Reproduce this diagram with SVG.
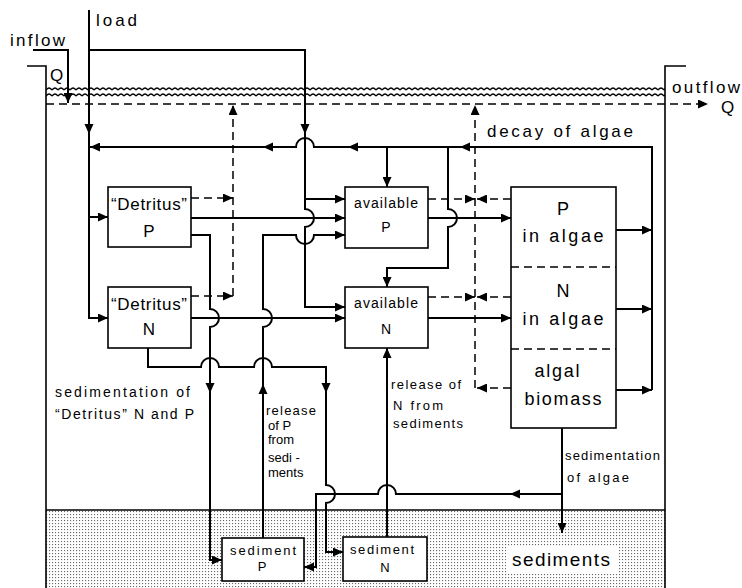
<svg xmlns="http://www.w3.org/2000/svg" width="742" height="588" viewBox="0 0 742 588">
<style>
.ln{fill:none;stroke:#000;stroke-width:2}
.ds{fill:none;stroke:#000;stroke-width:1.6;stroke-dasharray:8 5}
.wall{fill:none;stroke:#000;stroke-width:1.6}
.bx{fill:#fff;stroke:#000;stroke-width:1.6}
.dv{fill:none;stroke:#000;stroke-width:1.5;stroke-dasharray:8 5}
text{font-family:"Liberation Sans",Arial,sans-serif;fill:#000}
.big{font-size:17px}
.mid{font-size:14px}
.sm{font-size:13px}
.c{text-anchor:middle}
</style>
<defs>
<marker id="ah" viewBox="0 0 10 9" refX="10" refY="4.5" markerWidth="10" markerHeight="9" markerUnits="userSpaceOnUse" orient="auto">
<path d="M0 0 L10 4.5 L0 9 Z" fill="#000"/>
</marker>
<path id="tri" d="M0 0 L-10 -4.5 L-10 4.5 Z" fill="#000"/>
<pattern id="dots" x="0" y="0" width="3" height="3" patternUnits="userSpaceOnUse">
<rect width="3" height="3" fill="#fff"/>
<rect x="1" y="1" width="1.1" height="1.1" fill="#666"/>
</pattern>
<pattern id="wave" x="46" y="86" width="6" height="6" patternUnits="userSpaceOnUse">
<path d="M0 4 Q3 0 6 4" fill="none" stroke="#000" stroke-width="1.3"/>
</pattern>
</defs>

<g id="lake">
<rect x="46" y="510" width="619" height="78" fill="url(#dots)"/>
<path class="wall" d="M27 66 H46 V588"/>
<path class="wall" d="M686 66 H665 V588"/>
<path class="wall" d="M46 510 H665"/>
<rect x="46" y="86" width="619" height="6" fill="url(#wave)"/>
<rect x="46" y="92" width="619" height="6" fill="url(#wave)"/>
<rect x="506" y="546" width="113" height="28" fill="#fff"/>
</g>

<g id="connectors">
<path class="ds" d="M46 104 H708" marker-end="url(#ah)"/>
<path class="ln" d="M33 50 H68 V103" marker-end="url(#ah)"/>
<path class="ln" d="M89 10 V318 H108" marker-end="url(#ah)"/>
<path class="ln" d="M89 217 H108" marker-end="url(#ah)"/>
<path class="ln" d="M89 50 H305 V209 A9 9 0 0 1 305 227 V307 H345" marker-end="url(#ah)"/>
<path class="ln" d="M305 199 H345" marker-end="url(#ah)"/>
<path class="ln" d="M652 390 V147 H314 A9 9 0 0 0 296 147 H90" marker-end="url(#ah)"/>
<path class="ln" d="M616 230 H652" marker-end="url(#ah)"/>
<path class="ln" d="M616 309 H652" marker-end="url(#ah)"/>
<path class="ln" d="M616 390 H652" marker-end="url(#ah)"/>
<path class="ln" d="M387 147 V187" marker-end="url(#ah)"/>
<path class="ln" d="M448 147 V209 A9 9 0 0 1 448 227 V268 H387 V287" marker-end="url(#ah)"/>
<path class="ln" d="M428 218 H511" marker-end="url(#ah)"/>
<path class="ln" d="M428 318 H511" marker-end="url(#ah)"/>
<path class="ln" d="M191 218 H345" marker-end="url(#ah)"/>
<path class="ln" d="M191 235 H210 V309 A9 9 0 0 1 210 327 V560 H222" marker-end="url(#ah)"/>
<path class="ln" d="M191 318 H345" marker-end="url(#ah)"/>
<path class="ln" d="M148 348 V367 H201 A9 9 0 0 1 219 367 H254 A9 9 0 0 1 272 367 H326 V485 A9 9 0 0 1 326 503 V552 H343" marker-end="url(#ah)"/>
<path class="ln" d="M263 538 V327 A9 9 0 0 0 263 309 V235 H296 A9 9 0 0 0 314 235 H345" marker-end="url(#ah)"/>
<path class="ln" d="M387 537 V348" marker-end="url(#ah)"/>
<path class="ln" d="M562 428 V533" marker-end="url(#ah)"/>
<path class="ln" d="M562 494 H396 A9 9 0 0 0 378 494 H316 V567 H304" marker-end="url(#ah)"/>
<path class="dv" d="M191 198 H233" marker-end="url(#ah)"/>
<path class="dv" d="M191 296 H233" marker-end="url(#ah)"/>
<path class="dv" d="M233 296 V105" marker-end="url(#ah)"/>
<path class="dv" d="M428 199 H475" marker-end="url(#ah)"/>
<path class="dv" d="M428 297 H475" marker-end="url(#ah)"/>
<path class="dv" d="M511 199 H477" marker-end="url(#ah)"/>
<path class="dv" d="M511 297 H477" marker-end="url(#ah)"/>
<path class="dv" d="M511 388 H477" marker-end="url(#ah)"/>
<path class="dv" d="M475 388 V105" marker-end="url(#ah)"/>
<use href="#tri" transform="translate(89 134) rotate(90)"/>
<use href="#tri" transform="translate(305 134) rotate(90)"/>
<use href="#tri" transform="translate(263 147) rotate(180)"/>
<use href="#tri" transform="translate(348 147) rotate(180)"/>
<use href="#tri" transform="translate(460 147) rotate(180)"/>
<use href="#tri" transform="translate(210 393) rotate(90)"/>
<use href="#tri" transform="translate(263 384) rotate(-90)"/>
<use href="#tri" transform="translate(326 393) rotate(90)"/>
<use href="#tri" transform="translate(510 494) rotate(180)"/>
</g>

<g id="detritus-p">
<rect class="bx" x="108" y="187" width="83" height="60"/>
<text class="big c" x="149" y="210" textLength="76" lengthAdjust="spacing">“Detritus”</text>
<text class="big c" x="149" y="237">P</text>
</g>
<g id="detritus-n">
<rect class="bx" x="108" y="287" width="83" height="61"/>
<text class="big c" x="149" y="310" textLength="76" lengthAdjust="spacing">“Detritus”</text>
<text class="big c" x="149" y="335">N</text>
</g>
<g id="available-p">
<rect class="bx" x="345" y="187" width="83" height="61"/>
<text class="mid c" x="386" y="208" textLength="64" lengthAdjust="spacing">available</text>
<text class="mid c" x="386" y="232">P</text>
</g>
<g id="available-n">
<rect class="bx" x="345" y="287" width="83" height="61"/>
<text class="mid c" x="386" y="308" textLength="64" lengthAdjust="spacing">available</text>
<text class="mid c" x="386" y="334">N</text>
</g>
<g id="algae">
<rect class="bx" x="511" y="187" width="105" height="241"/>
<path class="ds" d="M511 267 H616 M511 349 H616"/>
<text class="big c" x="563" y="215" style="font-size:18px">P</text>
<text class="big c" x="563" y="242" textLength="81" lengthAdjust="spacing" style="font-size:18px">in algae</text>
<text class="big c" x="563" y="297" style="font-size:18px">N</text>
<text class="big c" x="563" y="325" textLength="81" lengthAdjust="spacing" style="font-size:18px">in algae</text>
<text class="big c" x="557" y="377" textLength="45" lengthAdjust="spacing" style="font-size:18px">algal</text>
<text class="big c" x="563" y="405" textLength="77" lengthAdjust="spacing" style="font-size:18px">biomass</text>
</g>
<g id="sediment-p">
<rect class="bx" x="222" y="538" width="82" height="43"/>
<text class="sm c" x="263" y="555" textLength="66" lengthAdjust="spacing">sediment</text>
<text class="sm c" x="262" y="571">P</text>
</g>
<g id="sediment-n">
<rect class="bx" x="343" y="537" width="84" height="44"/>
<text class="sm c" x="382" y="554" textLength="64" lengthAdjust="spacing">sediment</text>
<text class="sm c" x="385" y="572">N</text>
</g>

<g id="labels">
<text class="big" x="10" y="46" textLength="55" lengthAdjust="spacing">inflow</text>
<text class="big" x="96" y="26" textLength="41" lengthAdjust="spacing">load</text>
<text class="big" x="50" y="81">Q</text>
<text class="big" x="672" y="93" textLength="68" lengthAdjust="spacing">outflow</text>
<text class="big" x="721" y="113">Q</text>
<text class="big" x="487" y="137" textLength="146" lengthAdjust="spacing">decay of algae</text>
<text class="mid" x="55" y="397" textLength="135" lengthAdjust="spacing">sedimentation of</text>
<text class="mid" x="55" y="419" textLength="139" lengthAdjust="spacing">“Detritus” N and P</text>
<text class="sm" x="266" y="415" textLength="50" lengthAdjust="spacing">release</text>
<text class="sm" x="268" y="430">of P</text>
<text class="sm" x="268" y="444">from</text>
<text class="sm" x="268" y="462">sedi -</text>
<text class="sm" x="268" y="477">ments</text>
<text class="sm" x="391" y="389" textLength="70" lengthAdjust="spacing">release of</text>
<text class="sm" x="393" y="410" textLength="50" lengthAdjust="spacing">N  from</text>
<text class="sm" x="393" y="428" textLength="70" lengthAdjust="spacing">sediments</text>
<text class="sm" x="565" y="460" textLength="95" lengthAdjust="spacing">sedimentation</text>
<text class="sm" x="567" y="482" textLength="62" lengthAdjust="spacing">of  algae</text>
<text class="big" x="512" y="566" textLength="98" lengthAdjust="spacing" style="font-size:19px">sediments</text>
</g>
</svg>
